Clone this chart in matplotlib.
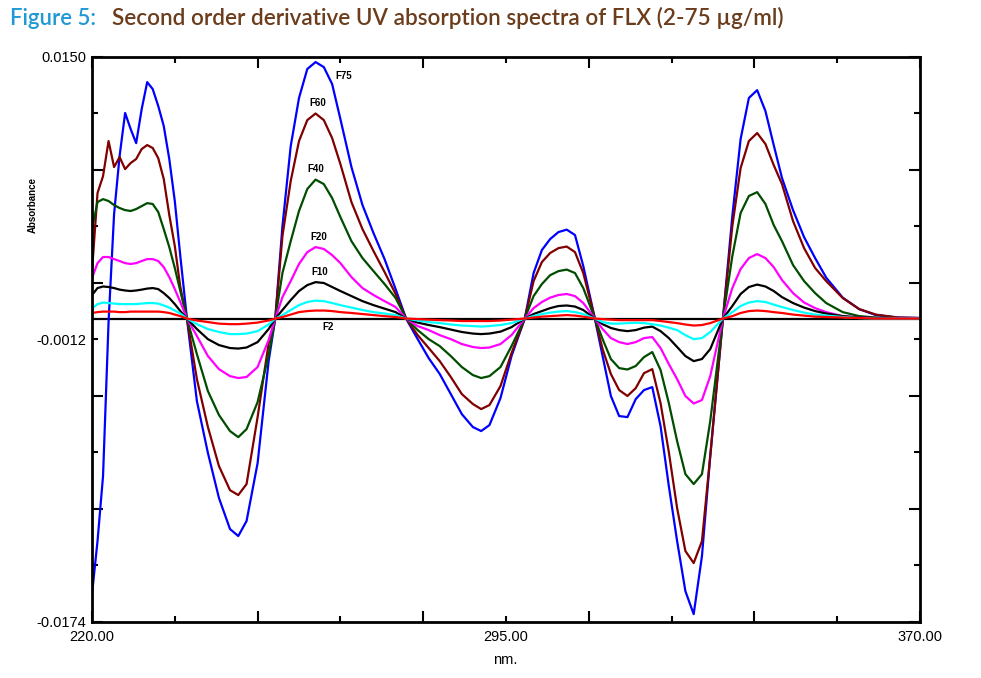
"""Second order derivative UV spectra of FLX (2-75 ug/ml), redrawn with matplotlib."""
import numpy as np
import matplotlib
matplotlib.use("Agg")
import matplotlib.pyplot as plt

# wavelength grid (nm), shared by every trace
wl = [220, 221, 222, 223, 224, 225, 226, 227, 228, 229, 230, 231, 232, 233, 234, 235, 236, 237.2,
      239, 241, 243, 245, 246.5, 248, 250, 252, 253.2,
      254.5, 256, 257.5, 259, 260.5, 262, 263.5, 265, 267, 269, 271, 273, 275, 276.9,
      279, 281, 283, 285, 287, 289, 290.5, 292, 294, 296, 298.4,
      300, 301.5, 303, 304.5, 306, 307.5, 309, 311.1,
      312.5, 314, 315.5, 317, 318.5, 320, 321.5, 323, 324.5, 326, 327.5, 329, 330.5, 332, 334.3,
      336, 337.5, 339, 340.5, 342, 343.5, 345, 347, 349, 351, 353, 356, 359, 362, 366, 370]

# second derivative values, in units of 1e-3 absorbance
f75 = [-15.80, -12.76, -9.03, -0.20, 5.99, 9.32, 11.79, 10.87, 10.06, 12.01, 13.56, 13.16, 12.19, 11.04, 9.15, 6.74, 3.58, 0.0,
       -4.73, -7.71, -10.29, -12.07, -12.47, -11.61, -8.29, -2.44, 0.0,
       5.30, 9.89, 12.65, 14.31, 14.71, 14.42, 13.45, 11.44, 8.69, 6.51, 4.90, 3.41, 1.69, 0.0,
       -1.18, -2.27, -3.18, -4.33, -5.48, -6.22, -6.45, -6.11, -4.56, -2.15, 0.0,
       2.61, 3.93, 4.56, 4.96, 5.10, 4.79, 3.01, 0.0,
       -2.15, -4.44, -5.59, -5.65, -4.62, -4.10, -3.93, -6.17, -9.61, -12.76, -15.63, -16.95, -13.62, -7.89, 0.0,
       5.88, 10.29, 12.65, 13.10, 11.90, 9.95, 8.06, 6.22, 4.67, 3.47, 2.35, 1.20, 0.54, 0.20, 0.06, 0.03]
f60 = [2.72, 7.20, 8.17, 10.18, 8.69, 9.26, 8.57, 8.92, 9.15, 9.72, 9.95, 9.78, 9.20, 8.00, 5.94, 4.16, 1.81, 0.0,
       -3.47, -6.22, -8.46, -9.84, -10.12, -9.49, -5.65, -1.41, 0.0,
       4.73, 7.89, 10.18, 11.38, 11.76, 11.38, 10.35, 8.86, 6.68, 5.13, 3.87, 2.67, 1.41, 0.0,
       -0.95, -1.69, -2.44, -3.35, -4.33, -4.90, -5.19, -4.96, -3.87, -1.98, 0.0,
       2.15, 3.24, 3.76, 4.04, 4.13, 3.81, 2.61, 0.0,
       -1.75, -3.18, -4.10, -4.44, -3.99, -3.13, -2.90, -4.85, -7.66, -10.87, -13.33, -14.02, -12.76, -7.89, 0.0,
       5.30, 8.63, 10.18, 10.64, 10.01, 8.80, 7.71, 5.59, 4.04, 2.90, 2.15, 1.18, 0.54, 0.23, 0.06, 0.03]
f40 = [5.13, 6.68, 6.85, 6.74, 6.51, 6.34, 6.22, 6.17, 6.28, 6.45, 6.62, 6.57, 6.11, 5.13, 4.10, 2.90, 1.58, 0.0,
       -2.04, -4.16, -5.53, -6.45, -6.80, -6.34, -4.79, -2.09, 0.0,
       2.61, 4.44, 6.17, 7.43, 7.97, 7.71, 6.91, 5.82, 4.44, 3.47, 2.72, 1.98, 1.18, 0.0,
       -0.66, -1.18, -1.58, -2.15, -2.78, -3.24, -3.41, -3.30, -2.78, -1.58, 0.0,
       1.29, 1.98, 2.49, 2.72, 2.81, 2.61, 1.75, 0.0,
       -1.18, -2.32, -2.84, -2.92, -2.72, -2.21, -1.92, -2.95, -4.85, -7.03, -8.92, -9.49, -8.92, -5.88, 0.0,
       3.58, 6.05, 7.03, 7.25, 6.57, 5.36, 4.44, 3.07, 2.15, 1.46, 0.89, 0.37, 0.14, 0.06, 0.03, 0.03]
f20 = [2.32, 3.18, 3.53, 3.53, 3.41, 3.30, 3.18, 3.13, 3.18, 3.30, 3.41, 3.41, 3.30, 2.95, 2.38, 1.69, 0.95, 0.0,
       -1.00, -2.15, -2.90, -3.30, -3.41, -3.35, -2.78, -1.23, 0.0,
       1.23, 2.15, 3.13, 3.81, 4.10, 3.99, 3.64, 3.18, 2.38, 1.75, 1.35, 1.00, 0.66, 0.0,
       -0.43, -0.66, -0.95, -1.18, -1.46, -1.63, -1.69, -1.66, -1.46, -0.95, 0.0,
       0.60, 0.95, 1.20, 1.35, 1.41, 1.29, 0.89, 0.0,
       -0.60, -1.12, -1.35, -1.46, -1.35, -1.12, -1.06, -1.69, -2.61, -3.47, -4.44, -4.87, -4.67, -3.30, 0.0,
       1.75, 2.84, 3.47, 3.70, 3.47, 2.95, 2.21, 1.46, 0.92, 0.60, 0.37, 0.14, 0.06, 0.03, 0.03, 0.03]
f10 = [1.35, 1.75, 1.84, 1.81, 1.75, 1.66, 1.61, 1.58, 1.61, 1.66, 1.72, 1.75, 1.69, 1.46, 1.18, 0.83, 0.43, 0.0,
       -0.60, -1.18, -1.52, -1.69, -1.72, -1.66, -1.35, -0.60, 0.0,
       0.49, 1.06, 1.58, 1.92, 2.09, 2.04, 1.81, 1.58, 1.29, 1.00, 0.77, 0.57, 0.37, 0.0,
       -0.23, -0.37, -0.49, -0.63, -0.77, -0.86, -0.89, -0.86, -0.75, -0.49, 0.0,
       0.26, 0.43, 0.60, 0.72, 0.75, 0.69, 0.49, 0.0,
       -0.32, -0.54, -0.66, -0.72, -0.66, -0.52, -0.46, -0.72, -1.12, -1.63, -2.15, -2.44, -2.32, -1.75, 0.0,
       0.72, 1.41, 1.81, 1.95, 1.84, 1.58, 1.23, 0.89, 0.63, 0.43, 0.29, 0.14, 0.06, 0.03, 0.0, 0.0]
f5 = [0.57, 0.83, 0.92, 0.89, 0.86, 0.83, 0.83, 0.83, 0.83, 0.86, 0.89, 0.89, 0.86, 0.75, 0.63, 0.46, 0.29, 0.0,
      -0.32, -0.60, -0.77, -0.89, -0.89, -0.86, -0.72, -0.34, 0.0,
      0.20, 0.49, 0.77, 0.95, 1.03, 1.00, 0.89, 0.77, 0.63, 0.49, 0.37, 0.29, 0.20, 0.0,
      -0.11, -0.20, -0.26, -0.34, -0.40, -0.43, -0.46, -0.43, -0.37, -0.26, 0.0,
      0.14, 0.26, 0.34, 0.40, 0.43, 0.37, 0.26, 0.0,
      -0.20, -0.29, -0.29, -0.26, -0.24, -0.26, -0.32, -0.40, -0.52, -0.66, -0.95, -1.18, -1.12, -0.77, 0.0,
      0.37, 0.72, 0.92, 1.00, 0.95, 0.80, 0.66, 0.49, 0.34, 0.23, 0.17, 0.09, 0.03, 0.0, 0.0, 0.0]
f2 = [0.32, 0.37, 0.40, 0.40, 0.40, 0.37, 0.37, 0.40, 0.40, 0.40, 0.40, 0.40, 0.40, 0.37, 0.32, 0.23, 0.14, 0.0,
      -0.11, -0.20, -0.29, -0.32, -0.32, -0.29, -0.23, -0.11, 0.0,
      0.09, 0.23, 0.37, 0.43, 0.46, 0.46, 0.43, 0.37, 0.32, 0.26, 0.20, 0.14, 0.09, 0.0,
      -0.03, -0.06, -0.09, -0.11, -0.14, -0.14, -0.14, -0.14, -0.11, -0.06, 0.0,
      0.06, 0.11, 0.14, 0.17, 0.20, 0.17, 0.11, 0.0,
      -0.03, -0.06, -0.09, -0.09, -0.09, -0.09, -0.09, -0.14, -0.20, -0.26, -0.34, -0.40, -0.37, -0.26, 0.0,
      0.14, 0.32, 0.43, 0.46, 0.43, 0.37, 0.32, 0.23, 0.17, 0.11, 0.09, 0.06, 0.03, 0.0, 0.0, 0.0]

traces = [f75, f60, f40, f20, f10, f5, f2]
colors = ["#0000ff", "#800000", "#004d00", "#ff00ff", "#000000", "#00ffff", "#ff0000"]

# curve tags: text, wavelength, absorbance
tag_text = ["F75", "F60", "F40", "F20", "F10", "F2"]
tag_wl = [265.6, 260.9, 260.6, 261.1, 261.3, 262.8]
tag_val = [0.01391, 0.01236, 0.00857, 0.00467, 0.00267, -0.00049]

y_ticks = [0.0150, 0.01176, 0.00852, 0.00528, 0.00204, -0.0012, -0.00444, -0.00768, -0.01092, -0.01416, -0.0174]
y_labels = ["0.0150", "", "", "", "", "-0.0012", "", "", "", "", "-0.0174"]
x_ticks = [220, 235, 250, 265, 280, 295, 310, 325, 340, 355, 370]
x_labels = ["220.00", "", "", "", "", "295.00", "", "", "", "", "370.00"]

NARROW = ["Liberation Sans Narrow", "Liberation Sans", "DejaVu Sans"]

W, H = 981, 678
fig = plt.figure(figsize=(W / 100, H / 100), dpi=100)
ax = fig.add_axes([92 / W, 1 - 622 / H, (920 - 92) / W, (622 - 57) / H])

ax.axhline(0, color="black", lw=1.6, zorder=1)
x = np.array(wl)
for vals, c in zip(traces, colors):
    ax.plot(x, np.array(vals) * 1e-3, color=c, lw=1.6, zorder=2, solid_joinstyle="round")

for t, tx, ty in zip(tag_text, tag_wl, tag_val):
    ax.text(tx, ty, t, ha="center", va="center", fontsize=7, fontweight="bold",
            family="Liberation Sans", color="black", zorder=3)

ax.set_xlim(220, 370)
ax.set_ylim(-0.0174, 0.0150)
ax.set_xticks(x_ticks)
ax.set_xticklabels(x_labels)
ax.set_yticks(y_ticks)
ax.set_yticklabels(y_labels)
ax.tick_params(direction="in", top=True, right=True, width=1.5, color="black",
               labelsize=10.5, pad=4)
ax.tick_params(axis="x", pad=6)
# alternate long / short ticks as on the instrument printout
for axis in (ax.xaxis, ax.yaxis):
    for i, tk in enumerate(axis.get_major_ticks()):
        size = 8 if i % 2 == 0 else 4
        tk.tick1line.set_markersize(size)
        tk.tick2line.set_markersize(size)
for lab in ax.get_xticklabels() + ax.get_yticklabels():
    lab.set_family(NARROW)
for sp in ax.spines.values():
    sp.set_linewidth(2)

fig.text(33 / W, 1 - 205 / H, "Absorbance", rotation=90, ha="center", va="center",
         fontsize=7, fontweight="bold", family="Liberation Sans")
fig.text(505 / W, 1 - 660 / H, "nm.", ha="center", va="center", fontsize=10.5, family=NARROW)

# title, sized so each part spans the same pixels as in the source figure
r = fig.canvas.get_renderer()


def fitted(x0, x1, s, color):
    t = fig.text(x0 / W, 1 - 25 / H, s, ha="left", va="baseline", fontsize=14,
                 color=color, family="Lato", fontweight="semibold")
    w = t.get_window_extent(renderer=r).width
    t.set_fontsize(14 * (x1 - x0) / w)
    return t


fitted(10, 96, "Figure 5:", "#1f9ad6")
fitted(112, 783, "Second order derivative UV absorption spectra of FLX (2-75 \u00b5g/ml)", "#6b3d1d")

fig.savefig("out.png", dpi=100, facecolor="white")
